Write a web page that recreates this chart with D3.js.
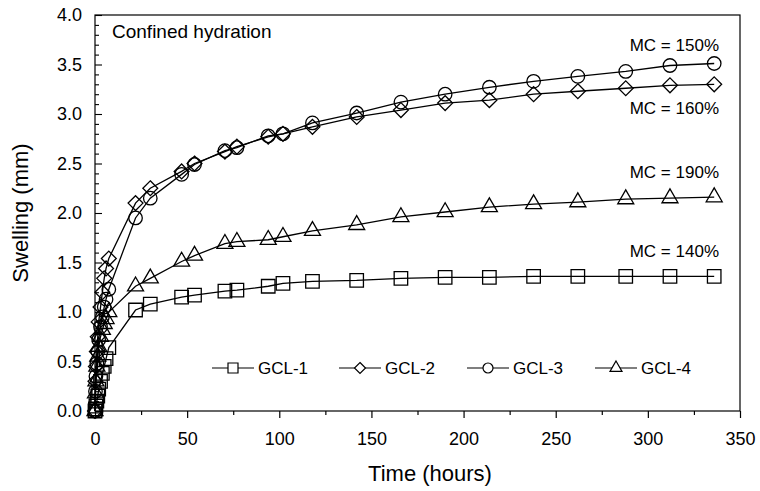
<!DOCTYPE html>
<html><head><meta charset="utf-8">
<script src="https://cdn.jsdelivr.net/npm/d3@7"></script>
<style>body{margin:0;background:#fff}svg{display:block}text{font-family:Arial,"Liberation Sans",sans-serif;fill:#000}</style>
</head><body>
<svg id="c" width="760" height="491"></svg>
<script>
const times = [0, 0.25, 0.5, 1, 1.5, 2, 3, 4, 5, 6, 7.5, 22, 30, 47, 54, 70.5, 77, 94, 102, 118, 142, 166, 190, 214, 238, 262, 288, 312, 336];
const gcl1 = [0, 0.02, 0.05, 0.1, 0.15, 0.22, 0.3, 0.38, 0.45, 0.53, 0.64, 1.02, 1.08, 1.15, 1.17, 1.21, 1.22, 1.26, 1.29, 1.31, 1.32, 1.34, 1.35, 1.35, 1.36, 1.36, 1.36, 1.36, 1.36];
const gcl2 = [0, 0.3, 0.45, 0.6, 0.75, 0.9, 1.05, 1.2, 1.34, 1.44, 1.54, 2.10, 2.25, 2.42, 2.50, 2.62, 2.67, 2.77, 2.80, 2.87, 2.97, 3.04, 3.11, 3.14, 3.20, 3.23, 3.26, 3.29, 3.30];
const gcl3 = [0, 0.2, 0.35, 0.48, 0.6, 0.72, 0.85, 0.95, 1.05, 1.13, 1.23, 1.95, 2.15, 2.39, 2.49, 2.63, 2.66, 2.78, 2.80, 2.91, 3.01, 3.12, 3.20, 3.27, 3.33, 3.38, 3.43, 3.49, 3.51];
const gcl4 = [0, 0.18, 0.3, 0.45, 0.55, 0.65, 0.75, 0.82, 0.88, 0.93, 1.0, 1.26, 1.34, 1.51, 1.57, 1.69, 1.71, 1.73, 1.76, 1.82, 1.88, 1.96, 2.01, 2.06, 2.09, 2.11, 2.14, 2.15, 2.16];
const seriesNames = ["GCL-1", "GCL-2", "GCL-3", "GCL-4"];
const seriesMarkers = ["square", "diamond", "circle", "triangle"];
const xTicks = [0, 50, 100, 150, 200, 250, 300, 350];
const yTicks = [0, 0.5, 1, 1.5, 2, 2.5, 3, 3.5, 4];
const mcLabels = ["MC = 150%", "MC = 160%", "MC = 190%", "MC = 140%"];
const mcValues = [3.70, 3.06, 2.41, 1.62];
const noteText = "Confined hydration";

const allValues = [gcl1, gcl2, gcl3, gcl4];
const svg = d3.select("#c");
const m = {l: 95, r: 740, t: 15, b: 411};
const x = d3.scaleLinear().domain([0, 350]).range([m.l, m.r]);
const y = d3.scaleLinear().domain([0, 4]).range([m.b, m.t]);

// frame
svg.append("rect").attr("x", m.l).attr("y", m.t).attr("width", m.r - m.l).attr("height", m.b - m.t)
  .attr("fill", "none").attr("stroke", "#000").attr("stroke-width", 1.2);

// x axis
const xa = svg.append("g").attr("transform", `translate(0,${m.b})`)
  .call(d3.axisBottom(x).tickValues(d3.range(0, 351, 25)).tickSize(5).tickFormat(d => xTicks.includes(d) ? d : ""));
xa.select(".domain").remove();
xa.selectAll(".tick line").attr("stroke", "#000").attr("stroke-width", 1.2)
  .attr("y2", d => d % 50 === 0 ? 7 : 4);
xa.selectAll(".tick text").attr("font-size", 18).attr("y", 21).attr("font-family", "Arial, 'Liberation Sans', sans-serif");

// y axis
const ya = svg.append("g").attr("transform", `translate(${m.l},0)`)
  .call(d3.axisRight(y).tickValues(d3.range(0, 41).map(d => d / 10)).tickSize(4).tickFormat(""));
ya.select(".domain").remove();
ya.selectAll(".tick line").attr("stroke", "#000").attr("stroke-width", 1.1)
  .attr("x2", (d, i) => i % 5 === 0 ? 7 : 4);
svg.append("g").selectAll("text").data(yTicks).join("text")
  .attr("x", m.l - 13).attr("y", d => y(d)).attr("dy", "0.35em")
  .attr("text-anchor", "end").attr("font-size", 18).text(d => d.toFixed(1));

// titles
svg.append("text").attr("x", 430).attr("y", 481).attr("text-anchor", "middle")
  .attr("font-size", 22).text("Time (hours)");
svg.append("text").attr("transform", `translate(28,${(m.t + m.b) / 2}) rotate(-90)`)
  .attr("text-anchor", "middle").attr("font-size", 22).text("Swelling (mm)");

// note
svg.append("text").attr("x", 112).attr("y", 38).attr("font-size", 19).text(noteText);

function markerPath(type, s) {
  const h = s / 2;
  if (type === "square") return `M${-h},${-h}H${h}V${h}H${-h}Z`;
  if (type === "diamond") return `M0,${-h * 1.1}L${h * 1.1},0L0,${h * 1.1}L${-h * 1.1},0Z`;
  if (type === "circle") return d3.symbol(d3.symbolCircle, Math.PI * h * h)();
  if (type === "triangle") { const t = s * 0.866; return `M0,${-t * 2 / 3}L${h},${t / 3}L${-h},${t / 3}Z`; }
}

const line = d3.line().x(d => x(d[0])).y(d => y(d[1]));
const order = [0, 3, 1, 2];
order.forEach(i => {
  const data = times.map((t, k) => [t, allValues[i][k]]);
  const g = svg.append("g");
  g.append("path").datum(data).attr("d", line).attr("fill", "none").attr("stroke", "#000").attr("stroke-width", 1.3);
  g.selectAll("path.mk").data(data).join("path").attr("class", "mk")
    .attr("transform", d => `translate(${x(d[0])},${y(d[1])})`)
    .attr("d", markerPath(seriesMarkers[i], seriesMarkers[i] === "triangle" ? 16 : 13.5))
    .attr("fill", "none").attr("stroke", "#000").attr("stroke-width", 1.3);
});

// MC labels
svg.append("g").selectAll("text").data(mcLabels).join("text")
  .attr("x", 719).attr("y", (d, i) => y(mcValues[i])).attr("dy", "0.35em")
  .attr("text-anchor", "end").attr("font-size", 17).text(d => d);

// legend
const legX = [212, 339, 467, 595];
const legY = 368;
const lg = svg.append("g");
seriesNames.forEach((n, i) => {
  lg.append("line").attr("x1", legX[i]).attr("x2", legX[i] + 42).attr("y1", legY).attr("y2", legY)
    .attr("stroke", "#000").attr("stroke-width", 1.2);
  lg.append("path").attr("transform", `translate(${legX[i] + 21},${legY})`)
    .attr("d", markerPath(seriesMarkers[i], seriesMarkers[i] === "triangle" ? 12 : 10))
    .attr("fill", "#fff").attr("stroke", "#000").attr("stroke-width", 1.2);
  lg.append("text").attr("x", legX[i] + 46).attr("y", legY).attr("dy", "0.35em").attr("font-size", 17).text(n);
});
</script>
</body></html>
